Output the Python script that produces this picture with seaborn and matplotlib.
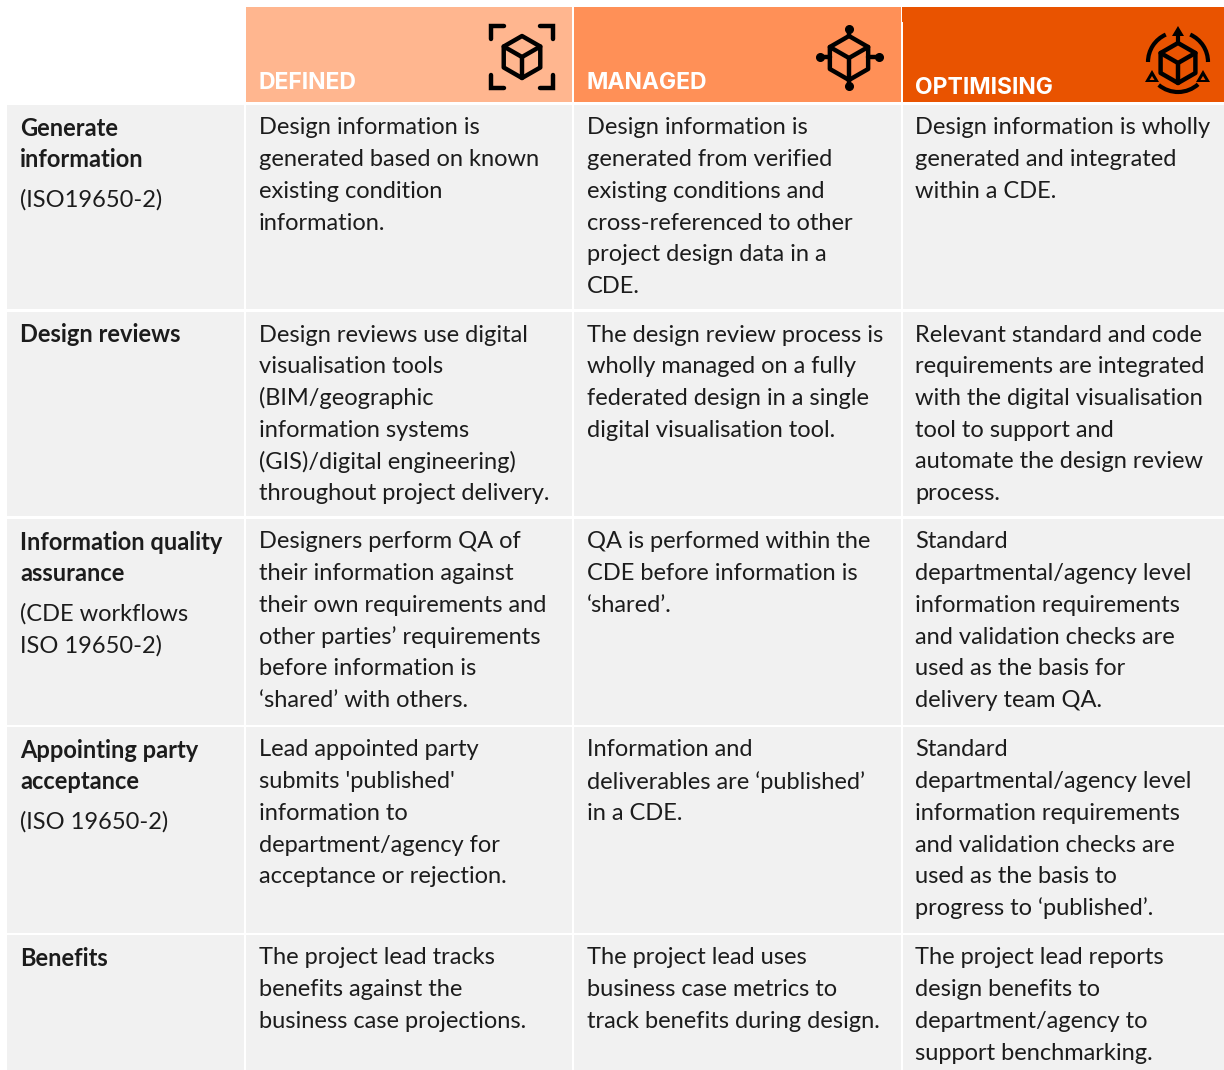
import numpy as np
import matplotlib
matplotlib.use('Agg')
import matplotlib.pyplot as plt
from matplotlib.patches import Rectangle, Arc, Polygon
import seaborn as sns

# table text, one list of lines per cell
levels = ['DEFINED', 'MANAGED', 'OPTIMISING']
level_colors = ['#FFB68F', '#FF9057', '#E95300']

row_titles = [
    ['Generate', 'information'],
    ['Design reviews'],
    ['Information quality', 'assurance'],
    ['Appointing party', 'acceptance'],
    ['Benefits'],
]
row_notes = [
    ['(ISO19650-2)'],
    [],
    ['(CDE workflows', 'ISO 19650-2)'],
    ['(ISO 19650-2)'],
    [],
]

defined_text = [
    ['Design information is', 'generated based on known', 'existing condition', 'information.'],
    ['Design reviews use digital', 'visualisation tools', '(BIM/geographic', 'information systems',
     '(GIS)/digital engineering)', 'throughout project delivery.'],
    ['Designers perform QA of', 'their information against', 'their own requirements and',
     'other parties\u2019 requirements', 'before information is', '\u2018shared\u2019 with others.'],
    ['Lead appointed party', "submits 'published'", 'information to', 'department/agency for',
     'acceptance or rejection.'],
    ['The project lead tracks', 'benefits against the', 'business case projections.'],
]
managed_text = [
    ['Design information is', 'generated from verified', 'existing conditions and',
     'cross-referenced to other', 'project design data in a', 'CDE.'],
    ['The design review process is', 'wholly managed on a fully', 'federated design in a single',
     'digital visualisation tool.'],
    ['QA is performed within the', 'CDE before information is', '\u2018shared\u2019.'],
    ['Information and', 'deliverables are \u2018published\u2019', 'in a CDE.'],
    ['The project lead uses', 'business case metrics to', 'track benefits during design.'],
]
optimising_text = [
    ['Design information is wholly', 'generated and integrated', 'within a CDE.'],
    ['Relevant standard and code', 'requirements are integrated', 'with the digital visualisation',
     'tool to support and', 'automate the design review', 'process.'],
    ['Standard', 'departmental/agency level', 'information requirements', 'and validation checks are',
     'used as the basis for', 'delivery team QA.'],
    ['Standard', 'departmental/agency level', 'information requirements', 'and validation checks are',
     'used as the basis to', 'progress to \u2018published\u2019.'],
    ['The project lead reports', 'design benefits to', 'department/agency to',
     'support benchmarking.'],
]

# layout in pixels
col_edges = [(7, 244), (246, 572), (574, 901), (903, 1224)]
text_x = [259, 587, 915]
row_edges = [(105, 309), (312, 516), (519, 725), (727, 933), (935, 1070)]
line_h = 31.7
text_col = '#1c1c1c'
cell_col = '#F1F1F1'
body_font = ['Lato', 'DejaVu Sans']
head_font = ['Inter', 'DejaVu Sans']

sns.set_theme(style='white')
plt.rcParams['font.family'] = body_font

fig = plt.figure(figsize=(12.24, 10.70), dpi=100)
ax = fig.add_axes([0, 0, 1, 1])
ax.set_xlim(0, 1224)
ax.set_ylim(1070, 0)
ax.axis('off')

# header cells
header_y = [83, 83, 88]
for i, name in enumerate(levels):
    x0, x1 = col_edges[i + 1]
    ax.add_patch(Rectangle((x0, 7), x1 - x0, 95, color=level_colors[i], lw=0))
    ax.text(text_x[i], header_y[i], name, color='white', fontsize=16.5, fontweight='bold',
            family=head_font, va='center', ha='left')
ax.add_patch(Rectangle((902, 7), 1.5, 15, color=level_colors[2], lw=0))

# body cells
columns = [defined_text, managed_text, optimising_text]
for r, (y0, y1) in enumerate(row_edges):
    for x0, x1 in col_edges:
        ax.add_patch(Rectangle((x0, y0), x1 - x0, y1 - y0, color=cell_col, lw=0))
    y = y0 + 23
    for line in row_titles[r]:
        ax.text(20, y, line, fontsize=17, fontweight='bold', color=text_col, va='center')
        y += line_h
    y += 8.5
    for line in row_notes[r]:
        ax.text(20, y, line, fontsize=17, color=text_col, va='center')
        y += line_h
    for c, col in enumerate(columns):
        for k, line in enumerate(col[r]):
            ax.text(text_x[c], y0 + 23 + k * line_h, line, fontsize=17,
                    color=text_col, va='center')


def cube(cx, cy, r, lw=3.2):
    w = r * 0.87
    hexagon = [(cx, cy - r), (cx + w, cy - r / 2), (cx + w, cy + r / 2),
               (cx, cy + r), (cx - w, cy + r / 2), (cx - w, cy - r / 2)]
    ax.add_patch(Polygon(hexagon, closed=True, fill=False, ec='black', lw=lw, joinstyle='round'))
    ax.plot([cx - w, cx, cx + w], [cy - r / 2, cy, cy - r / 2], color='black', lw=lw)
    ax.plot([cx, cx], [cy, cy + r], color='black', lw=lw)


# icon 1, cube in corner brackets
cube(522, 57, 21)
for sx, sy in [(-1, -1), (1, -1), (-1, 1), (1, 1)]:
    xc, yc = 522 + sx * 31, 57 + sy * 31
    ax.plot([xc - sx * 13, xc, xc], [yc, yc, yc - sy * 13], color='black', lw=3.2,
            solid_capstyle='round', solid_joinstyle='miter')

# icon 2, cube with four arms
cube(849, 58, 22)
ax.plot([849, 849], [29, 36], color='black', lw=3.2)
ax.plot([849, 849], [80, 86], color='black', lw=3.2)
ax.plot([820, 830], [57, 57], color='black', lw=3.2)
ax.plot([868, 879], [57, 57], color='black', lw=3.2)
ax.plot([849, 849, 820, 879], [29, 86, 57, 57], ls='none', marker='o', ms=5.5, color='black')

# icon 3, cube with arrows and arcs
cube(1178, 63, 20)
ax.plot([1178, 1178], [42, 34], color='black', lw=3)
ax.add_patch(Polygon([(1178, 26), (1172, 36), (1184, 36)], color='black', lw=0))
for px in [1152, 1203]:
    ax.add_patch(Polygon([(px, 70), (px - 7, 82), (px + 7, 82)], color='black', lw=0))
    ax.add_patch(Polygon([(px, 76), (px - 2.5, 80), (px + 2.5, 80)], color=level_colors[2], lw=0))
for start, end in [(180, 246), (294, 360), (48, 130)]:
    ax.add_patch(Arc((1178, 62), 60, 60, theta1=start, theta2=end, color='black', lw=3))

fig.savefig('out.png', dpi=100, facecolor='white')
